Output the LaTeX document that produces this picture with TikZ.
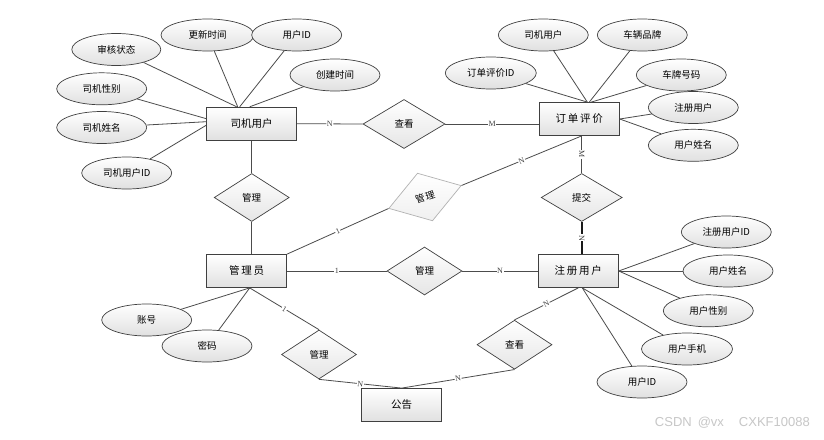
\documentclass[tikz,border=0pt]{standalone}
\usepackage{fontspec}
\setmainfont{Noto Sans CJK SC}
\newfontfamily\lblfont{Liberation Serif}
\newfontfamily\wmfont{Liberation Sans}
\usetikzlibrary{shapes.geometric}
\begin{document}
\begin{tikzpicture}[x=1pt,y=-1pt,
  ent/.style={draw=black!75, rectangle, top color=white, bottom color=black!12,
    minimum width=80pt, minimum height=33pt, inner sep=0pt, line width=0.8pt,
    font=\fontsize{10.5}{12}\selectfont},
  attr/.style={draw=black!75, ellipse, top color=white, bottom color=black!12,
    minimum width=90pt, minimum height=32pt, inner sep=0pt, line width=0.7pt,
    font=\fontsize{9.5}{11}\selectfont},
  rel/.style={draw=black!75, diamond, top color=white, bottom color=black!10,
    minimum width=75pt, minimum height=48pt, inner sep=0pt, line width=0.7pt,
    font=\fontsize{9.5}{11}\selectfont},
  conn/.style={draw=black!70, line width=0.8pt},
  card/.style={midway, sloped, fill=white, inner sep=0.6pt, text=black!75,
    font=\lblfont\fontsize{8}{9}\selectfont},
]
\useasboundingbox (0,0) rectangle (824,439);
\fill[white] (0,0) rectangle (824,439);

% entities
\node[ent, minimum width=90pt] (sj) at (251.7,123.7) {司机用户};
\node[ent] (dd) at (579.3,119) {订\,单\,评\,价};
\node[ent] (gly) at (246.7,271) {管\,理\,员};
\node[ent] (zc) at (578.3,271) {注\,册\,用\,户};
\node[ent] (gg) at (401.7,405) {公告};

% relationships
\node[rel, minimum width=82pt, minimum height=49pt] (ck1) at (404,124) {查看};
\node[rel] (gl1) at (251.7,197.5) {管理};
\node[rel, draw=black!30, bottom color=black!6, minimum width=76pt, minimum height=50pt, rotate=17.5] (gl2) at (425,197) {管\hspace{1pt}理};
\node[rel] (gl3) at (424.5,271) {管理};
\node[rel, minimum width=81pt] (tj) at (581.7,197.5) {提交};
\node[rel, minimum height=49pt] (gl4) at (319,354.5) {管理};
\node[rel, minimum height=49pt] (ck2) at (514.5,344.7) {查看};

% attributes of 司机用户
\node[attr, minimum width=89pt] (a1) at (116.3,49.5) {审核状态};
\node[attr, minimum width=93pt] (a2) at (207.5,35) {更新时间};
\node[attr] (a3) at (296.7,35) {用户ID};
\node[attr] (a4) at (335,75) {创建时间};
\node[attr] (a5) at (101.7,88.8) {司机性别};
\node[attr] (a6) at (101.7,127.5) {司机姓名};
\node[attr] (a7) at (126.7,173) {司机用户ID};

% attributes of 订单评价
\node[attr] (b1) at (543.3,35) {司机用户};
\node[attr] (b2) at (642.3,35) {车辆品牌};
\node[attr, minimum width=91pt] (b3) at (490.8,73) {订单评价ID};
\node[attr] (b4) at (681.3,75) {车牌号码};
\node[attr] (b5) at (693.3,107.5) {注册用户};
\node[attr] (b6) at (693.3,145.3) {用户姓名};

% attributes of 注册用户
\node[attr] (c1) at (726.3,232) {注册用户ID};
\node[attr] (c2) at (728,271) {用户姓名};
\node[attr] (c3) at (708.3,310.8) {用户性别};
\node[attr, minimum width=91pt] (c4) at (687,349) {用户手机};
\node[attr] (c5) at (642,382) {用户ID};

% attributes of 管理员
\node[attr] (d1) at (146.7,320) {账号};
\node[attr] (d2) at (207,346) {密码};

% helper coordinates
\coordinate (ddb) at (tj.north |- dd.south);
\coordinate (glyb) at ([xshift=3pt]gly.south);
\coordinate (zcb) at ([xshift=4pt]zc.south);

% attribute lines
\draw[conn] (a1) -- ([xshift=-15pt]sj.north);
\draw[conn] (a2) -- ([xshift=-14pt]sj.north);
\draw[conn] (a3) -- ([xshift=-12pt]sj.north);
\draw[conn] (a4) -- ([xshift=-2pt]sj.north);
\draw[conn] (a5) -- ([yshift=5pt]sj.west);
\draw[conn] (a6) -- ([yshift=2pt]sj.west);
\draw[conn] (a7) -- ([yshift=-1.5pt]sj.west);

\draw[conn] (b3) -- ([xshift=8pt]dd.north);
\draw[conn] (b1) -- ([xshift=8pt]dd.north);
\draw[conn] (b2) -- ([xshift=10pt]dd.north);
\draw[conn] (b4) -- ([xshift=12pt]dd.north);
\draw[conn] (b5) -- (dd.east);
\draw[conn] (b6) -- (dd.east);

\draw[conn] (c1) -- (zc.east);
\draw[conn] (c2) -- (zc.east);
\draw[conn] (c3) -- (zc.east);
\draw[conn] (c4) -- (zcb);
\draw[conn] (c5) -- (zcb);

\draw[conn] (d1) -- (glyb);
\draw[conn] (d2) -- (glyb);

% relationship lines
\draw[conn] (sj.east) -- node[card]{N} (ck1.west);
\draw[conn] (ck1.east) -- node[card]{M} (ck1.east -| dd.west);
\draw[conn] (sj.south) -- (gl1.north);
\draw[conn] (gl1.south) -- (gl1.south |- gly.north);
\draw[conn] (ddb) -- node[card]{M} (tj.north);
\draw[conn, line width=1.8pt, draw=black!90] (tj.south) -- node[card]{N} (tj.south |- zc.north);
\draw[conn] (ddb) -- node[card]{N} (gl2.east);
\draw[conn] (gl2.west) -- node[card]{1} (gly.north east);
\draw[conn] (gly.east) -- node[card]{1} (gl3.west);
\draw[conn] (gl3.east) -- node[card]{N} (zc.west);
\draw[conn] (glyb) -- node[card]{1} (gl4.north);
\draw[conn] (gl4.south) -- node[card]{N} (gg.north);
\draw[conn] (ck2.south) -- node[card]{N} (gg.north);
\draw[conn] (zc.south) -- node[card]{N} (ck2.north);

% watermark
\node[text=black!22, font=\wmfont\fontsize{13}{14}\selectfont, anchor=east, inner sep=0pt] (wm) at (810,423) {CSDN\hspace{6pt}@vx\hspace{15pt}CXKF10088};
\end{tikzpicture}
\end{document}
